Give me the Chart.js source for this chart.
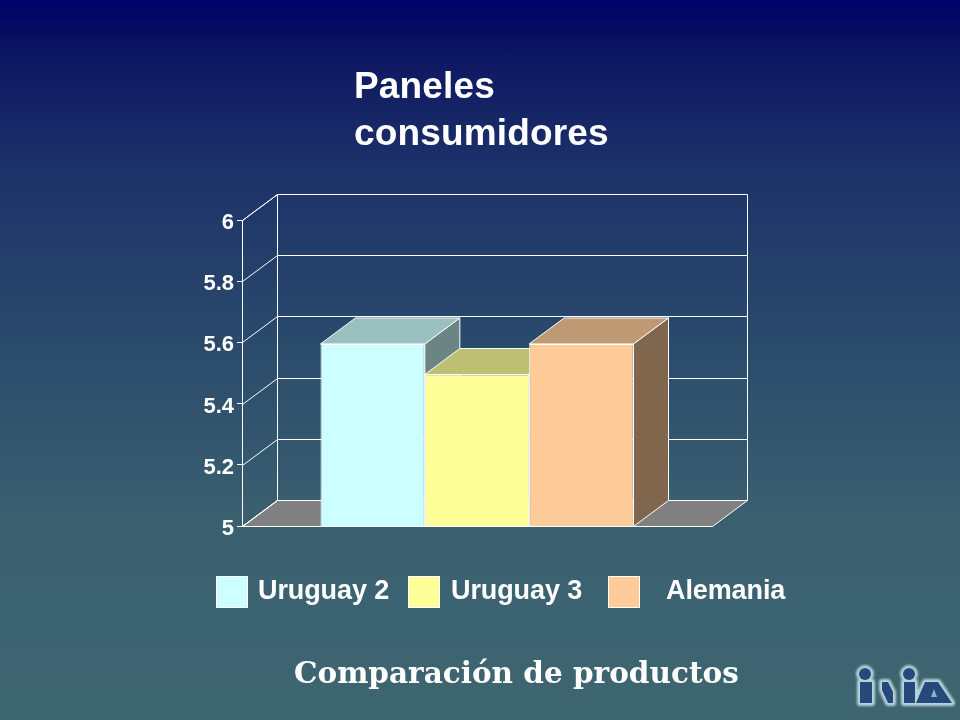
<!DOCTYPE html>
<html>
<head>
<meta charset="utf-8">
<script src="https://cdn.jsdelivr.net/npm/chart.js@4/dist/chart.umd.js"></script>
<style>
    html, body { margin: 0; padding: 0; }
    body {
        position: relative; width: 960px; height: 720px; overflow: hidden;
        background: linear-gradient(to bottom, #000068 0px, #050c60 30px, #0e1862 60px, #1d3269 170px, #2a4a6c 340px, #3a6070 520px, #3e6670 720px);
        font-family: "Liberation Sans", Arial, sans-serif; color: #fff;
    }
    #world { position: absolute; left: 0; top: 0; }
    #title { position: absolute; left: 354px; top: 62px; font-size: 37px; line-height: 47px; font-weight: bold; letter-spacing: 0.15px; }
    .box { position: absolute; top: 576px; width: 30px; height: 30px; border: 1px solid #fff; }
    .lbl { position: absolute; top: 574px; font-size: 27px; line-height: 32px; font-weight: bold; letter-spacing: -0.1px; white-space: nowrap; }
    #foot { position: absolute; left: 294px; top: 653px; font-family: "DejaVu Serif", serif; font-size: 29.5px; line-height: 40px; font-weight: bold; white-space: nowrap; }
    #logo { position: absolute; left: 850px; top: 660px; }
</style>
</head>
<body>
<canvas id="world" width="960" height="720"></canvas>
<div id="title">Paneles<br>consumidores</div>
<div id="legend"></div>
<div id="foot">Comparación de productos</div>
<svg id="logo" width="106" height="54" viewBox="0 0 106 54">
    <defs>
        <filter id="halo" x="-20%" y="-20%" width="140%" height="140%"><feGaussianBlur stdDeviation="1.2"/></filter>
        <g id="inia">
            <circle cx="15" cy="14" r="6"/><rect x="10" y="22" width="12" height="21"/>
            <path d="M32 22 L38 22 L43 32 L43 43 L38 43 L32 30 Z"/>
            <circle cx="59" cy="14" r="6"/><rect x="54" y="22" width="11" height="21"/>
            <path d="M66 43 L75 22 L88 22 L102 43 Z"/>
        </g>
    </defs>
    <use href="#inia" fill="#b7d2d8" stroke="#b7d2d8" stroke-width="6" stroke-linejoin="round" filter="url(#halo)"/>
    <use href="#inia" fill="#24497a"/>
    <path d="M81 37 L84 29 L87 37 Z" fill="#8fb0bd"/>
</svg>
<script>
// paneles.js
const categories = ['Paneles consumidores'];
const seriesNames = ['Uruguay 2', 'Uruguay 3', 'Alemania'];
const seriesValues = [5.595, 5.495, 5.595];
const frontColors = ['#CCFFFF', '#FFFF99', '#FFCC99'];
const topColors = ['#99BFBF', '#BFBF73', '#BF9973'];
const sideColors = ['#6B8584', '#80804D', '#80664D'];
const yMin = 5, yMax = 6, yStep = 0.2;

// profundidad del efecto 3d
const depthX = 35, depthY = -26;

function snap(v) {
    return Math.round(v) + 0.5;
}

function poly(c, pts, fill) {
    c.beginPath();
    pts.forEach(function (p, i) { i ? c.lineTo(p[0], p[1]) : c.moveTo(p[0], p[1]); });
    c.closePath();
    if (fill) { c.fillStyle = fill; c.fill(); }
    c.stroke();
}

const box3d = {
    id: 'box3d',
    beforeDatasetsDraw: function (chart) {
        let c = chart.ctx, y = chart.scales.y, a = chart.chartArea;
        let left = snap(a.left), right = snap(a.right), top = snap(a.top), bottom = snap(a.bottom);
        c.save();
        c.strokeStyle = '#fff';
        c.lineWidth = 1;
        // piso
        poly(c, [[left, bottom], [right, bottom], [right + depthX, bottom + depthY], [left + depthX, bottom + depthY]], '#808080');
        // paredes y lineas de la grilla
        poly(c, [[left, bottom], [left, top], [left + depthX, top + depthY], [left + depthX, bottom + depthY]]);
        c.beginPath();
        c.moveTo(right + depthX, top + depthY);
        c.lineTo(right + depthX, bottom + depthY);
        c.stroke();
        for (let v = 0; v <= Math.round((yMax - yMin) / yStep); v++) {
            let py = snap(y.getPixelForValue(yMin + v * yStep));
            c.beginPath();
            c.moveTo(left, py);
            c.lineTo(left + depthX, py + depthY);
            c.lineTo(right + depthX, py + depthY);
            c.stroke();
        }
        // caras superior y lateral de cada barra
        chart.data.datasets.forEach(function (ds, i) {
            let b = chart.getDatasetMeta(i).data[0];
            let l = b.x - b.width / 2, r = b.x + b.width / 2;
            poly(c, [[r, b.y], [r + depthX, b.y + depthY], [r + depthX, bottom + depthY], [r, bottom]], sideColors[i]);
            poly(c, [[l, b.y], [r, b.y], [r + depthX, b.y + depthY], [l + depthX, b.y + depthY]], topColors[i]);
        });
        c.restore();
    },
    afterDatasetsDraw: function (chart) {
        let c = chart.ctx, a = chart.chartArea;
        c.save();
        c.strokeStyle = '#fff';
        c.beginPath();
        c.moveTo(snap(a.left), snap(a.bottom));
        c.lineTo(snap(a.right), snap(a.bottom));
        c.stroke();
        c.restore();
    }
};

let world_chart = new Chart(document.getElementById('world'), {
    type: 'bar',
    plugins: [box3d],
    data: {
        labels: categories,
        datasets: seriesNames.map(function (name, i) {
            return {
                label: name,
                data: [seriesValues[i]],
                backgroundColor: frontColors[i],
                borderColor: '#fff',
                borderWidth: 1
            };
        })
    },
    options: {
        responsive: false,
        animation: false,
        devicePixelRatio: 1,
        layout: { padding: { left: 190, right: 248, top: 220, bottom: 194 } },
        plugins: { legend: { display: false }, tooltip: { enabled: false } },
        datasets: { bar: { categoryPercentage: 0.666, barPercentage: 1 } },
        scales: {
            x: { display: false, offset: true, grid: { display: false } },
            y: {
                min: yMin,
                max: yMax,
                afterFit: function (s) { s.width = 52; },
                grid: { drawOnChartArea: false, color: '#fff', tickLength: 5 },
                border: { color: '#fff' },
                ticks: {
                    stepSize: yStep,
                    padding: 3,
                    labelOffset: 3,
                    color: '#fff',
                    font: { family: '"Liberation Sans", Arial, sans-serif', size: 22, weight: 'bold' },
                    callback: function (value) { return String(+value.toFixed(1)); }
                }
            }
        }
    }
});

// leyenda
const legendBoxX = [216, 408, 608];
const legendTextX = [258, 451, 666];
let legendHtml = '';
for (let i = 0; i < seriesNames.length; i++) {
    legendHtml += '<div class="box" style="left:' + legendBoxX[i] + 'px;background:' + frontColors[i] + '"></div>' +
        '<div class="lbl" style="left:' + legendTextX[i] + 'px">' + seriesNames[i] + '</div>';
}
document.getElementById('legend').innerHTML = legendHtml;
</script>
</body>
</html>
